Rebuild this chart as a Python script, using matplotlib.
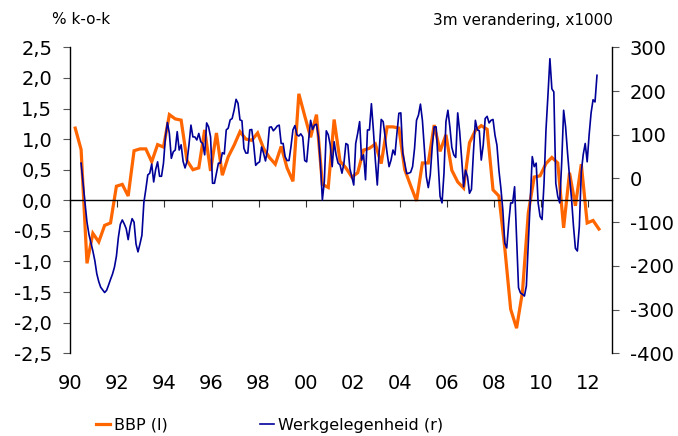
import numpy as np
import matplotlib
matplotlib.use("Agg")
import matplotlib.pyplot as plt
from matplotlib.lines import Line2D

# ---------------- data ----------------
# BBP (% k-o-k), quarterly, 1990Q1 .. 2012Q2
bbp = [1.18, 0.83, -1.03, -0.54, -0.68, -0.41, -0.37, 0.23, 0.26, 0.07,
       0.81, 0.84, 0.84, 0.63, 0.91, 0.87, 1.40, 1.33, 1.31, 0.65,
       0.50, 0.53, 1.15, 0.48, 1.10, 0.41, 0.71, 0.90, 1.12, 1.00,
       0.98, 1.10, 0.85, 0.70, 0.59, 0.88, 0.53, 0.31, 1.74, 1.38,
       1.03, 1.40, 0.26, 0.21, 1.32, 0.64, 0.53, 0.38, 0.45, 0.82,
       0.85, 0.92, 0.60, 1.20, 1.20, 1.18, 0.50, 0.24, -0.01, 0.61,
       0.61, 1.23, 0.80, 1.07, 0.49, 0.30, 0.20, 0.94, 1.14, 1.22,
       1.16, 0.17, 0.07, -0.78, -1.78, -2.09, -1.50, -0.20, 0.38, 0.40,
       0.60, 0.70, 0.61, -0.45, 0.45, -0.09, 0.59, -0.37, -0.33, -0.47]

# Werkgelegenheid (3m verandering, x1000), monthly, Jun 1990 .. May 2012
werk = [35, -11, -56, -100, -128, -147, -166, -188, -218, -236,
        -249, -255, -261, -256, -244, -231, -219, -203, -178, -135,
        -105, -95, -104, -115, -140, -110, -92, -100, -150, -168,
        -150, -130, -55, -25, 8, 12, 33, -8, 20, 38,
        5, 5, 35, 95, 128, 103, 46, 61, 65, 107,
        65, 77, 39, 24, 39, 77, 122, 95, 95, 88,
        103, 84, 80, 54, 127, 118, 95, -11, -11, 12,
        35, 35, 59, 56, 111, 115, 134, 137, 156, 181,
        172, 134, 132, 69, 58, 58, 111, 112, 77, 30,
        35, 38, 72, 58, 40, 65, 117, 118, 109, 114,
        120, 122, 80, 80, 50, 41, 41, 73, 111, 121,
        100, 97, 102, 95, 41, 38, 88, 133, 112, 122,
        124, 95, 35, -49, -7, 109, 100, 77, 27, 84,
        54, 35, 31, 12, 35, 80, 77, 23, 4, -15,
        80, 103, 130, 42, 54, -3, 111, 111, 171, 111,
        42, -15, 65, 135, 130, 95, 58, 27, 42, 65,
        54, 103, 149, 150, 58, 35, 11, 12, 14, 27,
        69, 133, 145, 170, 133, 69, 4, -21, 8, 72,
        118, 118, 40, -41, -56, 12, 130, 156, 118, 71,
        54, 48, 150, 107, 46, -19, 19, 4, -34, -25,
        58, 133, 111, 109, 42, 76, 137, 142, 127, 133,
        135, 99, 76, 19, -22, -72, -148, -159, -102, -56,
        -56, -19, -132, -250, -262, -265, -269, -246, -148, -45,
        50, 27, 35, -56, -87, -94, -11, 111, 190, 274,
        205, 198, -11, -41, -56, 35, 156, 118, 58, 4,
        -45, -108, -160, -166, -110, 15, 55, 80, 38, 100,
        150, 180, 175, 236]

bbp_start_month = 2      # March 1990 (months after Jan 1990)
werk_start_month = 5     # June 1990
bbp_step = 3
year_ticks = list(range(1990, 2013, 2))
year_labels = ["90", "92", "94", "96", "98", "00", "02", "04", "06", "08", "10", "12"]
left_ticks = [-2.5, -2.0, -1.5, -1.0, -0.5, 0.0, 0.5, 1.0, 1.5, 2.0, 2.5]
left_labels = ["-2,5", "-2,0", "-1,5", "-1,0", "-0,5", "0,0", "0,5", "1,0", "1,5", "2,0", "2,5"]
right_ticks = [-400, -300, -200, -100, 0, 100, 200, 300]
right_labels = ["-400", "-300", "-200", "-100", "0", "100", "200", "300"]

# decimal-year positions (mid-month)
bbp_x = 1990 + (bbp_start_month + bbp_step * np.arange(len(bbp)) + 0.5) / 12.0
werk_x = 1990 + (werk_start_month + np.arange(len(werk)) + 0.5) / 12.0

ORANGE = "#FF6600"
NAVY = "#000099"

plt.rcParams["font.family"] = ["DejaVu Sans"]

fig = plt.figure(figsize=(6.78, 4.36), dpi=100)
ax = fig.add_axes([0.1037, 0.1897, 0.7985, 0.7018])
ax2 = ax.twinx()

ax.plot(bbp_x, bbp, color=ORANGE, lw=2.3, solid_joinstyle="miter")
ax2.plot(werk_x, werk, color=NAVY, lw=1.2)

ax.set_xlim(1990, 2013)
ax.set_ylim(-2.5, 2.5)
ax2.set_ylim(-400, 300)

# left axis
ax.set_yticks(left_ticks)
ax.set_yticklabels(left_labels)
ax.tick_params(axis="y", direction="out", length=5, width=0.8, pad=8,
               labelsize=14, color="#555555")
# right axis
ax2.set_yticks(right_ticks)
ax2.set_yticklabels(right_labels)
ax2.tick_params(axis="y", direction="out", length=5, width=0.8, pad=8,
                labelsize=14, color="#555555")

for s in ["top", "right"]:
    ax.spines[s].set_visible(False)
for s in ["top", "left", "bottom"]:
    ax2.spines[s].set_visible(False)
ax.spines["left"].set_linewidth(1.0)
ax2.spines["right"].set_linewidth(1.0)

# x axis line at zero with tick marks
ax.spines["bottom"].set_position(("data", 0))
ax.spines["bottom"].set_linewidth(1.0)
ax.set_xticks(year_ticks)
ax.tick_params(axis="x", direction="out", length=5, width=0.8,
               labelbottom=False, color="#333333")

# labels at the bottom
sec = ax.secondary_xaxis("bottom")
sec.set_xticks(year_ticks)
sec.set_xticklabels(year_labels)
sec.tick_params(axis="x", length=0, pad=15, labelsize=14)
sec.spines["bottom"].set_visible(False)

# unit captions
fig.text(52 / 678, 1 - 20 / 436, "% k-o-k", ha="left", va="center", fontsize=11)
fig.text(613 / 678, 1 - 20 / 436, "3m verandering, x1000", ha="right", va="center",
         fontsize=11)

handles = [Line2D([], [], color=ORANGE, lw=2.3), Line2D([], [], color=NAVY, lw=1.2)]
fig.legend(handles, ["BBP (l)", "Werkgelegenheid (r)"], loc="center left",
           bbox_to_anchor=(96 / 678, 1 - 425 / 436), ncol=2, frameon=False,
           handlelength=0.9, handletextpad=0.2, columnspacing=5.8, borderpad=0,
           borderaxespad=0, fontsize=11.5)

fig.savefig("out.png", dpi=100)
